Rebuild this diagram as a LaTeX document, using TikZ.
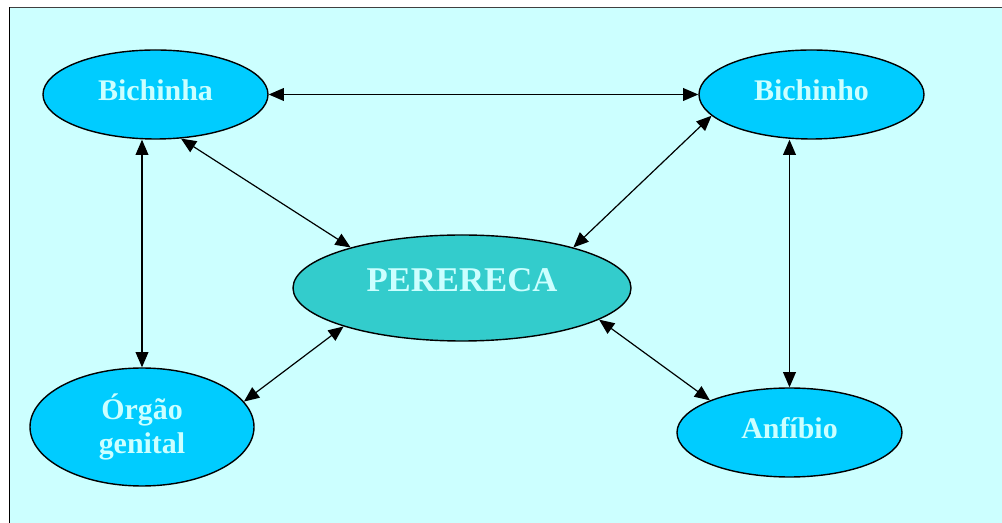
\documentclass[tikz,border=0pt]{standalone}
\usepackage{fontspec}
\setmainfont{Liberation Serif}
\usepackage{tikz}
\usetikzlibrary{shapes.geometric,arrows.meta}
\definecolor{paleaqua}{HTML}{CCFFFF}
\definecolor{skyblob}{HTML}{00CCFF}
\definecolor{tealblob}{HTML}{33CCCC}

\tikzset{
	blob/.style={ellipse,draw,line width=1pt,fill=skyblob,text=paleaqua,
		font=\fontsize{21.3}{23.5}\selectfont\bfseries,align=center,
		minimum width=5.625cm,minimum height=2.225cm,inner sep=0pt},
	oneline/.style={text depth=0.225cm},
	link/.style={{Triangle[length=0.38cm,width=0.32cm]}-{Triangle[length=0.38cm,width=0.32cm]},line width=0.85pt}
}

\begin{document}
\begin{tikzpicture}
			\useasboundingbox (0,0) rectangle (25.05,13.075);
			\clip (0,0) rectangle (25.05,13.075);
			\fill [color=paleaqua] (0.2375,-1) rectangle (26,12.8875);
			\draw [line width=1.1pt] (0.2375,-1) -- (0.2375,12.8875);
			\draw [line width=1.1pt,black!75] (0.2375,12.8875) -- (26,12.8875);
			\node[blob,oneline] (bichinha) at (3.8875,10.7125) {Bichinha};
			\node[blob,oneline] (bichinho) at (20.2875,10.7125) {Bichinho};
			\node[blob,oneline] (anfibio) at (19.7375,2.2625) {Anfíbio};
			\node[blob,minimum width=5.6cm,minimum height=2.95cm,
				font=\fontsize{21.3}{24.5}\selectfont\bfseries] (orgao) at (3.55,2.4) {Órgão\\genital};
			\node[blob,fill=tealblob,minimum width=8.45cm,minimum height=2.65cm,
				font=\fontsize{24.7}{27}\selectfont\bfseries,text depth=0.39cm] (perereca) at (11.55,5.875) {PERERECA};
			\draw[link] (bichinha.east) -- (bichinho.west);
			\draw[link] (orgao.north |- bichinha.south) -- (orgao.north);
			\draw[link] (anfibio.north |- bichinho.south) -- (anfibio.north);
			\draw[link] (bichinha.-60) -- (perereca.160);
			\draw[link] (bichinho.-168) -- (perereca.20);
			\draw[link] (perereca.-162) -- (orgao.14);
			\draw[link] (perereca.-13) -- (anfibio.158);
		\end{tikzpicture}
\end{document}
